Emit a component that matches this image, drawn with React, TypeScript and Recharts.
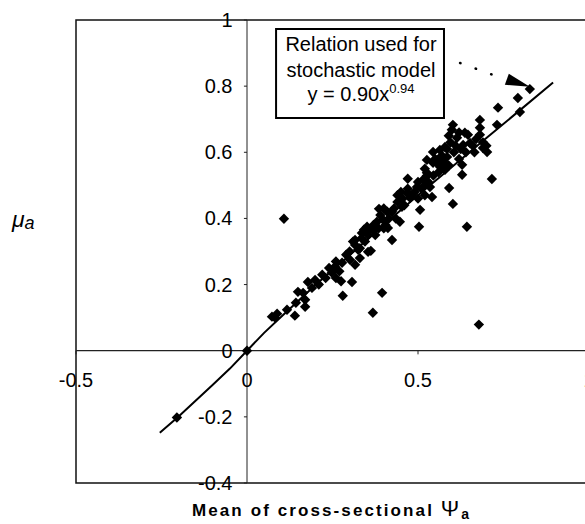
import React from "react";
import {
  ScatterChart,
  Scatter,
  XAxis,
  YAxis,
  ReferenceLine,
  ReferenceArea,
  ReferenceDot,
} from "recharts";

// mean of cross-sectional psi_a (x) and mu_a (y)
const psiMean = [
  -0.205, 0.0, 0.108, 0.073, 0.082, 0.088, 0.117, 0.14, 0.143, 0.149,
  0.17, 0.17, 0.178, 0.199, 0.164, 0.248, 0.257, 0.278, 0.307, 0.28,
  0.316, 0.301, 0.316, 0.325, 0.336, 0.342, 0.354, 0.316, 0.362, 0.351,
  0.368, 0.386, 0.398, 0.412, 0.424, 0.424, 0.447, 0.453, 0.468, 0.477,
  0.497, 0.506, 0.503, 0.515, 0.526, 0.535, 0.541, 0.556, 0.564, 0.579,
  0.368, 0.395, 0.678, 0.643, 0.602, 0.591, 0.716, 0.602, 0.599, 0.614,
  0.681, 0.681, 0.681, 0.646, 0.652, 0.632, 0.69, 0.702, 0.731, 0.734,
  0.792, 0.798, 0.827, 0.629, 0.629, 0.585, 0.564, 0.544, 0.526, 0.52,
  0.19, 0.21, 0.22, 0.23, 0.26, 0.27, 0.29, 0.3, 0.31, 0.33,
  0.335, 0.345, 0.355, 0.37, 0.375, 0.38, 0.385, 0.39, 0.405, 0.41,
  0.415, 0.43, 0.435, 0.44, 0.455, 0.46, 0.47, 0.48, 0.49, 0.5,
  0.51, 0.52, 0.53, 0.545, 0.55, 0.56, 0.57, 0.575, 0.585, 0.59,
  0.595, 0.605, 0.61, 0.62, 0.625, 0.64, 0.66, 0.665, 0.67, 0.69,
  0.7, 0.62, 0.59, 0.26, 0.24, 0.35, 0.4, 0.44, 0.52, 0.5,
  0.579, 0.544, 0.526, 0.556, 0.637, 0.47, 0.45, 0.4, 0.33, 0.275,
];
const muA = [
  -0.202, 0.0, 0.399, 0.103, 0.1, 0.112, 0.124, 0.106, 0.145, 0.178,
  0.154, 0.133, 0.208, 0.214, 0.175, 0.236, 0.254, 0.266, 0.208, 0.166,
  0.26, 0.275, 0.32, 0.305, 0.356, 0.366, 0.299, 0.335, 0.302, 0.375,
  0.366, 0.429, 0.396, 0.371, 0.335, 0.42, 0.39, 0.435, 0.477, 0.462,
  0.495, 0.426, 0.375, 0.517, 0.538, 0.495, 0.465, 0.568, 0.607, 0.547,
  0.115, 0.175, 0.079, 0.375, 0.444, 0.492, 0.519, 0.683, 0.668, 0.644,
  0.698, 0.674, 0.653, 0.653, 0.628, 0.622, 0.613, 0.601, 0.683, 0.735,
  0.764, 0.722, 0.791, 0.562, 0.532, 0.586, 0.556, 0.568, 0.529, 0.5,
  0.19, 0.2, 0.23, 0.22, 0.27, 0.24, 0.29, 0.3, 0.33, 0.31,
  0.34, 0.33, 0.35, 0.38, 0.35, 0.39, 0.37, 0.41, 0.38, 0.42,
  0.4, 0.43, 0.4, 0.45, 0.46, 0.44, 0.49, 0.47, 0.48, 0.51,
  0.49, 0.55, 0.51, 0.53, 0.58, 0.54, 0.59, 0.57, 0.61, 0.56,
  0.63, 0.6, 0.62, 0.58, 0.61, 0.6, 0.62, 0.6, 0.64, 0.63,
  0.62, 0.66, 0.65, 0.22, 0.25, 0.36, 0.43, 0.47, 0.47, 0.46,
  0.616, 0.601, 0.577, 0.577, 0.659, 0.52, 0.48, 0.37, 0.28, 0.21,
];

// fitted relation y = 0.90x^0.94
const fitX = [-0.255, -0.2, -0.1, -0.05, 0, 0.05, 0.1, 0.2, 0.3, 0.4, 0.5, 0.6, 0.7, 0.8, 0.895];
const fitY = [-0.248, -0.199, -0.103, -0.054, 0, 0.054, 0.103, 0.199, 0.289, 0.381, 0.47, 0.556, 0.643, 0.729, 0.811];

const xTicks = [-0.5, 0, 0.5, 1];
const yTicks = [-0.4, -0.2, 0, 0.2, 0.4, 0.6, 0.8, 1];

const points = psiMean.map((x, i) => ({ x, y: muA[i] }));
const fitData = fitX.map((x, i) => ({ x, y: fitY[i] }));

const FONT = "'Liberation Sans', Arial, Helvetica, sans-serif";

const Diamond = (props: any) => {
  const { cx, cy } = props;
  const s = 5.2;
  return (
    <path
      d={`M${cx},${cy - s}L${cx + s},${cy}L${cx},${cy + s}L${cx - s},${cy}Z`}
      fill="#000"
    />
  );
};

const NoDot = () => <g />;

const XTickLabel = ({ viewBox, value }: any) => (
  <text
    x={viewBox.x + viewBox.width / 2}
    y={viewBox.y + 37}
    textAnchor="middle"
    fontSize={20}
    fontFamily={FONT}
    fill="#000"
  >
    {value}
  </text>
);

const YTickLabel = ({ viewBox, value }: any) => (
  <text
    x={viewBox.x - 14}
    y={viewBox.y + viewBox.height / 2 + 7}
    textAnchor="end"
    fontSize={20}
    fontFamily={FONT}
    fill="#000"
  >
    {value}
  </text>
);

const BoxText = ({ viewBox }: any) => {
  const cx = viewBox.x + viewBox.width / 2 + 1;
  const top = viewBox.y;
  return (
    <g fontFamily={FONT} fontSize={20} fill="#000">
      <text x={cx} y={top + 22} textAnchor="middle">Relation used for</text>
      <text x={cx} y={top + 48} textAnchor="middle">stochastic model</text>
      <text x={cx} y={top + 72} textAnchor="middle">
        y = 0.90x<tspan fontSize={13} dy={-8}>0.94</tspan>
      </text>
    </g>
  );
};

const ArrowHead = (props: any) => {
  const { cx, cy } = props;
  return (
    <path
      d={`M${cx},${cy}L${cx - 25},${cy - 2}L${cx - 21},${cy - 13}Z`}
      fill="#000"
    />
  );
};

export default function App() {
  return (
    <div style={{ width: 600, height: 524, overflow: "hidden" }}>
      <style>{"body{margin:0;overflow:hidden}"}</style>
      <ScatterChart
        width={600}
        height={524}
        margin={{ top: 20, right: 11, bottom: 41, left: 76 }}
      >
        <XAxis type="number" dataKey="x" domain={[-0.5, 1]} hide allowDataOverflow />
        <YAxis type="number" dataKey="y" domain={[-0.4, 1]} hide allowDataOverflow />

        <ReferenceArea x1={-0.5} x2={1} y1={-0.4} y2={1} fill="none" stroke="#111" strokeWidth={1.5} />
        <ReferenceLine x={0} stroke="#222" strokeWidth={1} />
        <ReferenceLine y={0} stroke="#222" strokeWidth={1.2} />

        {yTicks.map((t) => (
          <ReferenceLine
            key={`yt${t}`}
            segment={[{ x: -0.009, y: t }, { x: 0, y: t }]}
            stroke="#222"
          />
        ))}
        {xTicks.map((t) => (
          <ReferenceLine
            key={`xt${t}`}
            segment={[{ x: t, y: 0 }, { x: t, y: -0.011 }]}
            stroke="#222"
          />
        ))}
        {yTicks.map((t) => (
          <ReferenceDot
            key={`yl${t}`}
            x={0}
            y={t}
            r={0.5}
            fill="none"
            stroke="none"
            label={<YTickLabel value={String(t)} />}
          />
        ))}
        {xTicks.map((t) => (
          <ReferenceDot
            key={`xl${t}`}
            x={t}
            y={0}
            r={0.5}
            fill="none"
            stroke="none"
            label={<XTickLabel value={String(t)} />}
          />
        ))}

        <Scatter
          data={fitData}
          line={{ stroke: "#000", strokeWidth: 2 }}
          shape={<NoDot />}
          isAnimationActive={false}
        />
        <Scatter data={points} shape={<Diamond />} isAnimationActive={false} />

        <ReferenceArea
          x1={0.085}
          x2={0.576}
          y1={0.704}
          y2={0.973}
          fill="#fff"
          fillOpacity={1}
          stroke="#000"
          strokeWidth={2}
          label={<BoxText />}
        />
        <ReferenceLine
          segment={[{ x: 0.623, y: 0.87 }, { x: 0.754, y: 0.821 }]}
          stroke="#000"
          strokeWidth={2.5}
          strokeLinecap="round"
          strokeDasharray="0.5 16"
        />
        <ReferenceDot x={0.827} y={0.798} r={1} shape={<ArrowHead />} />
      </ScatterChart>

      <svg
        width={600}
        height={524}
        style={{ position: "absolute", left: 0, top: 0, pointerEvents: "none" }}
      >
        <text x={12} y={227} fontFamily={FONT} fontSize={23} fontStyle="italic">
          μ<tspan fontSize={18} dy={2}>a</tspan>
        </text>
        <text
          x={192}
          y={516}
          fontFamily={FONT}
          fontSize={17}
          fontWeight="bold"
          letterSpacing={2.1}
        >
          Mean of cross-sectional <tspan fontWeight="normal" fontSize={22}>Ψ</tspan>
          <tspan fontSize={14} dy={3}>a</tspan>
        </text>
      </svg>
    </div>
  );
}
